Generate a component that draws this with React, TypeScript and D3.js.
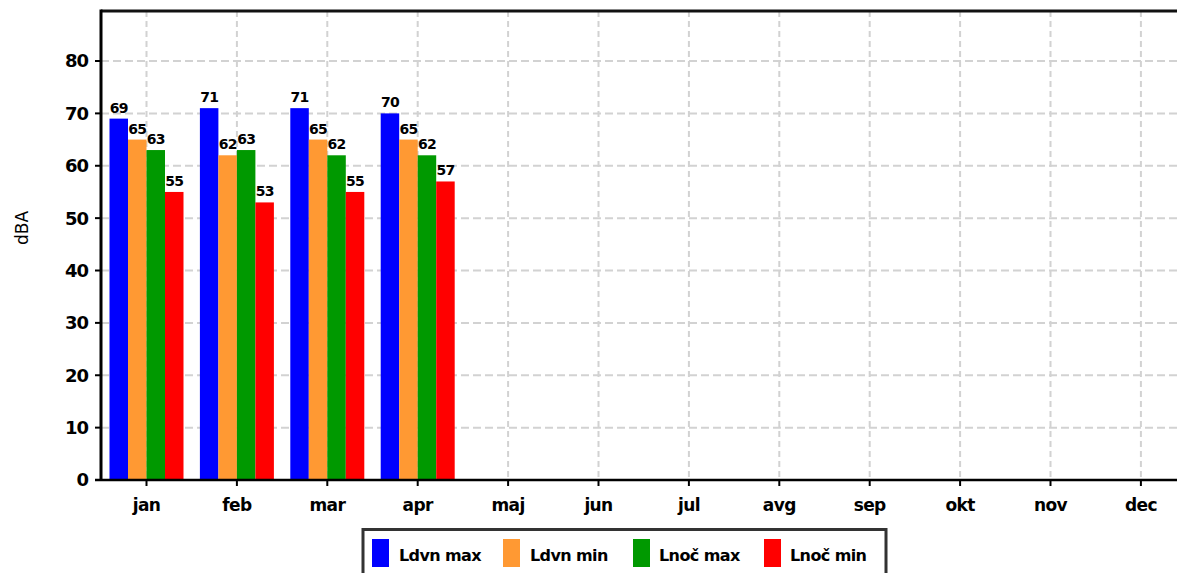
import React from "react";
import * as d3 from "d3";

const months = ["jan", "feb", "mar", "apr", "maj", "jun", "jul", "avg", "sep", "okt", "nov", "dec"];
const seriesNames = ["Ldvn max", "Ldvn min", "Lnoč max", "Lnoč min"];
const seriesColors = ["#0000ff", "#ff9933", "#009900", "#ff0000"];
const ldvnMax = [69, 71, 71, 70];
const ldvnMin = [65, 62, 65, 65];
const lnocMax = [63, 63, 62, 62];
const lnocMin = [55, 53, 55, 57];
const yTicks = [0, 10, 20, 30, 40, 50, 60, 70, 80];

const W = 1177;
const H = 573;
const left = 101;
const top = 11;
const bottom = 480;
const yMax = 89.55;

export default function App() {
  const series = [ldvnMax, ldvnMin, lnocMax, lnocMin];
  const x = d3.scaleBand<string>().domain(months).range([101.3, 1186.1]).padding(0);
  const inner = d3.scaleBand<string>().domain(seriesNames).range([-37, 37]).padding(0);
  const y = d3.scaleLinear().domain([0, yMax]).range([bottom, top]);
  const cx = (m: string) => (x(m) as number) + x.bandwidth() / 2;
  const font = "'DejaVu Sans', Verdana, sans-serif";

  const legendItems = [
    { sw: 372, tx: 399 },
    { sw: 503, tx: 530 },
    { sw: 633, tx: 659 },
    { sw: 764, tx: 790 },
  ];

  return (
    <svg width={W} height={H} style={{ position: "absolute", left: 0, top: 0, background: "#fff" }} fontFamily={font}>
      <rect width={W} height={H} fill="#fff" />
      {/* horizontal grid */}
      {yTicks.filter((t) => t > 0).map((t) => (
        <line key={"hg" + t} x1={left} x2={W} y1={y(t)} y2={y(t)} stroke="#d2d2d2" strokeWidth={2} strokeDasharray="8,4" />
      ))}
      {/* vertical grid */}
      {months.map((m) => (
        <line key={"vg" + m} x1={cx(m)} x2={cx(m)} y1={top} y2={bottom} stroke="#d2d2d2" strokeWidth={2} strokeDasharray="6,4" />
      ))}
      {/* bars */}
      {series.map((vals, si) =>
        vals.map((v, i) => {
          const m = months[i];
          const bx = cx(m) + (inner(seriesNames[si]) as number);
          return (
            <rect key={"b" + si + "-" + i} x={bx} y={y(v)} width={inner.bandwidth()} height={bottom - y(v)} fill={seriesColors[si]} />
          );
        })
      )}
      {/* value labels */}
      {series.map((vals, si) =>
        vals.map((v, i) => {
          const m = months[i];
          const bx = cx(m) + (inner(seriesNames[si]) as number) + inner.bandwidth() / 2;
          return (
            <text key={"l" + si + "-" + i} x={bx} y={y(v) - 6} textAnchor="middle" fontSize={14} fontWeight="bold" fill="#000" letterSpacing={-0.8}>
              {v}
            </text>
          );
        })
      )}
      {/* axes */}
      <line x1={left} x2={W} y1={top} y2={top} stroke="#111" strokeWidth={3} />
      <line x1={left} x2={left} y1={top - 1.5} y2={bottom + 1} stroke="#000" strokeWidth={3} />
      <line x1={left - 6} x2={W} y1={bottom} y2={bottom} stroke="#000" strokeWidth={2.5} />
      {yTicks.map((t) => (
        <g key={"yt" + t}>
          <line x1={left - 6} x2={left} y1={y(t)} y2={y(t)} stroke="#000" strokeWidth={2} />
          <text x={88} y={y(t)} dy="0.36em" textAnchor="end" fontSize={18} fontWeight="bold" letterSpacing={-1}>
            {t}
          </text>
        </g>
      ))}
      {months.map((m) => (
        <g key={"xt" + m}>
          <line x1={cx(m)} x2={cx(m)} y1={bottom} y2={bottom + 6} stroke="#000" strokeWidth={2} />
          <text x={cx(m)} y={511} textAnchor="middle" fontSize={17} fontWeight="bold" letterSpacing={-0.6}>
            {m}
          </text>
        </g>
      ))}
      <text transform={`translate(28,228) rotate(-90)`} textAnchor="middle" fontSize={17} fill="#000">
        dBA
      </text>
      {/* legend */}
      <rect x={363} y={529.5} width={523} height={50} fill="#fff" stroke="#333" strokeWidth={3} />
      {seriesNames.map((s, i) => (
        <g key={"lg" + s}>
          <rect x={legendItems[i].sw} y={539} width={17} height={28} fill={seriesColors[i]} />
          <text x={legendItems[i].tx} y={555} dy="0.36em" fontSize={16} fontWeight="bold" letterSpacing={-0.6}>
            {s}
          </text>
        </g>
      ))}
    </svg>
  );
}
